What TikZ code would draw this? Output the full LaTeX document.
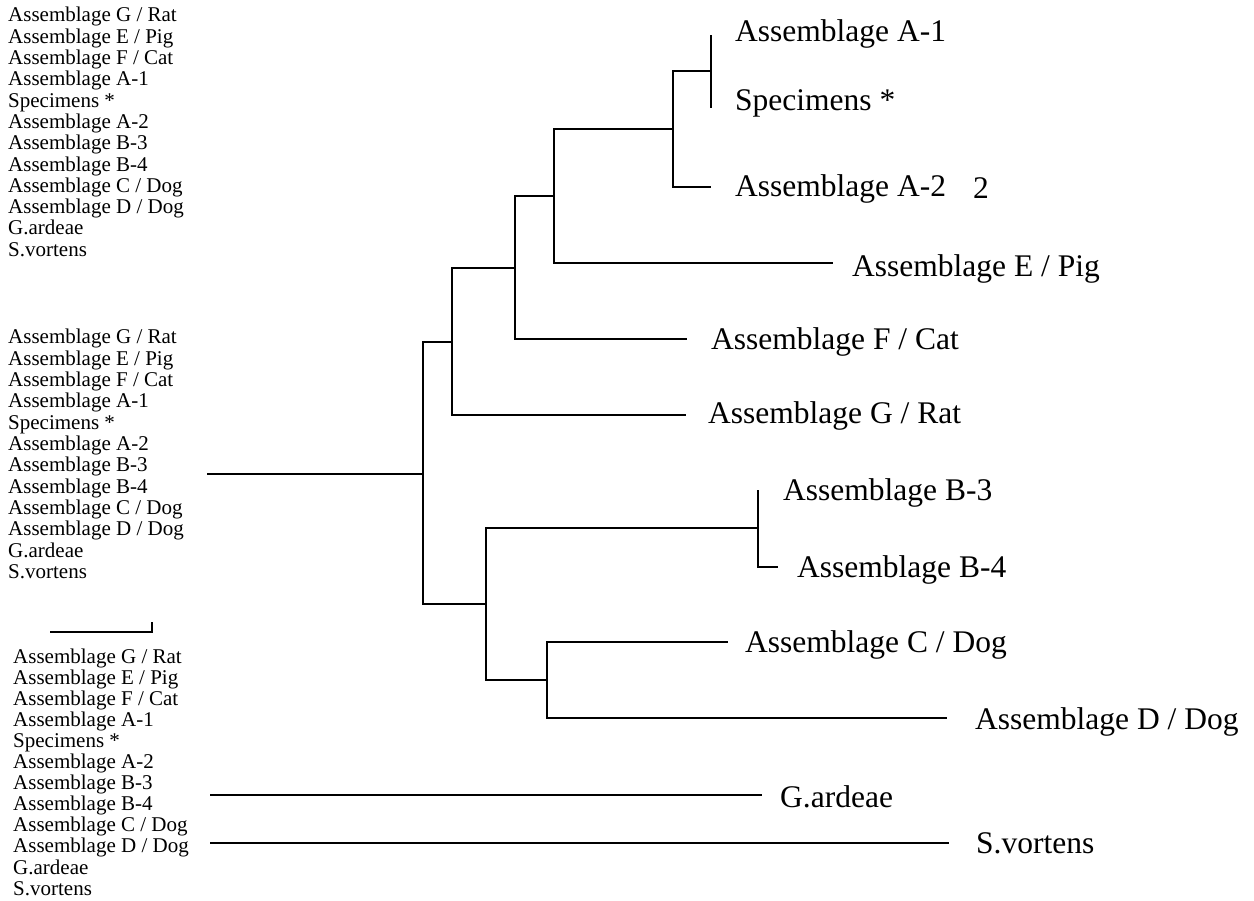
\documentclass[tikz,border=0pt]{standalone}
\usepackage{fontspec}
\setmainfont{Liberation Serif}
\begin{document}
\begin{tikzpicture}[x=1pt,y=-1pt,
  branch/.style={line width=2.5pt,line cap=rect},
  thinbranch/.style={line width=1.6pt},
  leaflabel/.style={anchor=base west,inner sep=0pt,font=\fontsize{31.5}{36}\selectfont},
  listlabel/.style={anchor=base west,inner sep=0pt,font=\fontsize{21}{22}\selectfont}]
\useasboundingbox (0,0) rectangle (1254,901);
% left lists
\foreach \t [count=\i] in {Assemblage G / Rat,Assemblage E / Pig,Assemblage F / Cat,Assemblage A-1,Specimens *,Assemblage A-2,Assemblage B-3,Assemblage B-4,Assemblage C / Dog,Assemblage D / Dog,G.ardeae,S.vortens}{
  \node[listlabel,name=la\i] at (8,{22+21.3*(\i-1)}) {\t};
  \node[listlabel,name=lb\i] at (8,{344+21.3*(\i-1)}) {\t};
  \node[listlabel,name=lc\i] at (13,{663+21.1*(\i-1)}) {\t};
}
% scale bar
\coordinate (s0) at (50,632);
\coordinate (s1) at (152,632);
\coordinate (s2) at (152,622);
\draw[line width=2.2pt] (s0) -- (s1) -- (s2);
% internal nodes
\coordinate (rs) at (208,474);
\coordinate (root) at (423,474);
\coordinate (n1) at (452,342);
\coordinate (n2) at (515,268);
\coordinate (n3) at (554,196);
\coordinate (n4) at (673,129);
\coordinate (n5) at (711,71);
\coordinate (nB) at (486,604);
\coordinate (nB34) at (758,528);
\coordinate (nCD) at (547,680);
% leaf ends
\coordinate (eA1) at (711,35);
\coordinate (eSp) at (711,108);
\coordinate (eA2) at (710,187);
\coordinate (eE) at (832,263);
\coordinate (eF) at (686,339);
\coordinate (eG) at (685,415);
\coordinate (eB3) at (758,490);
\coordinate (eB4) at (777,567);
\coordinate (eC) at (727,642);
\coordinate (eD) at (946,718);
\coordinate (gs) at (211,795);
\coordinate (ge) at (761,795);
\coordinate (vs) at (211,843);
\coordinate (ve) at (948,843);
% labels
\node[leaflabel] (tA1) at (735,42) {Assemblage A-1};
\node[leaflabel] (tSp) at (735,111) {Specimens *};
\node[leaflabel] (tA2) at (735,197) {Assemblage A-2};
\node[leaflabel] (t2) at (973,199) {2};
\node[leaflabel] (tE) at (852,277) {Assemblage E / Pig};
\node[leaflabel] (tF) at (711,350) {Assemblage F / Cat};
\node[leaflabel] (tG) at (708,424) {Assemblage G / Rat};
\node[leaflabel] (tB3) at (783,500) {Assemblage B-3};
\node[leaflabel] (tB4) at (797,577) {Assemblage B-4};
\node[leaflabel] (tC) at (745,652) {Assemblage C / Dog};
\node[leaflabel] (tD) at (975,729) {Assemblage D / Dog};
\node[leaflabel] (tGa) at (780,807) {G.ardeae};
\node[leaflabel] (tSv) at (976,853) {S.vortens};
% branches
\draw[branch] (rs) -- (root);
\draw[branch] (root) |- (n1);
\draw[branch] (root) |- (nB);
\draw[branch] (n1) |- (n2);
\draw[branch] (n1) |- (eG);
\draw[branch] (n2) |- (n3);
\draw[branch] (n2) |- (eF);
\draw[branch] (n3) |- (n4);
\draw[branch] (n3) |- (eE);
\draw[branch] (n4) |- (n5);
\draw[branch] (n4) |- (eA2);
\draw[thinbranch] (n5) -- (eA1);
\draw[thinbranch] (n5) -- (eSp);
\draw[branch] (nB) |- (nB34);
\draw[branch] (nB) |- (nCD);
\draw[thinbranch] (nB34) -- (eB3);
\draw[branch] (nB34) |- (eB4);
\draw[branch] (nCD) |- (eC);
\draw[branch] (nCD) |- (eD);
\draw[branch] (gs) -- (ge);
\draw[branch] (vs) -- (ve);
\end{tikzpicture}
\end{document}
